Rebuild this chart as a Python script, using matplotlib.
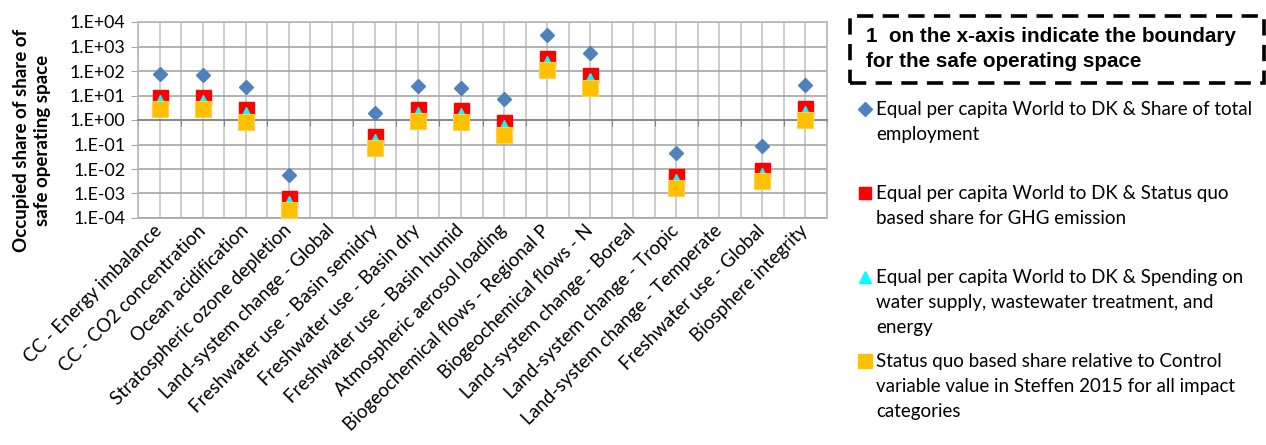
import numpy as np
import matplotlib
matplotlib.use("Agg")
import matplotlib.pyplot as plt
from matplotlib.lines import Line2D
from matplotlib.patches import Rectangle
from matplotlib.ticker import FuncFormatter

nan = np.nan

categories = ["CC - Energy imbalance", "CC - CO2 concentration", "Ocean acidification",
              "Stratospheric ozone depletion", "Land-system change - Global",
              "Freshwater use - Basin semidry", "Freshwater use - Basin dry",
              "Freshwater use - Basin humid", "Atmospheric aerosol loading",
              "Biogeochemical flows - Regional P", "Biogeochemical flows - N",
              "Land-system change - Boreal", "Land-system change - Tropic",
              "Land-system change - Temperate", "Freshwater use - Global",
              "Biosphere integrity"]

share_employment = [74, 69, 23, 0.0058, nan, 1.9, 24, 21, 6.9, 2900, 560, nan, 0.044, nan, 0.083, 26]
share_ghg = [8.3, 8.3, 2.7, 6.5e-4, nan, 0.22, 2.7, 2.5, 0.8, 325, 66, nan, 0.0051, nan, 0.0089, 2.95]
share_spending = [7.0, 7.0, 2.3, 5.5e-4, nan, 0.19, 2.3, 2.1, 0.68, 275, 56, nan, 0.0043, nan, 0.0076, 2.5]
status_quo = [2.8, 2.7, 0.85, 2.1e-4, nan, 0.074, 0.9, 0.83, 0.25, 105, 21, nan, 0.0016, nan, 0.0031, 0.98]

legend_labels = [
    "Equal per capita World to DK & Share of total\nemployment",
    "Equal per capita World to DK & Status quo\nbased share for GHG emission",
    "Equal per capita World to DK & Spending on\nwater supply, wastewater treatment, and\nenergy",
    "Status quo based share relative to Control\nvariable value in Steffen 2015 for all impact\ncategories",
]

W, H = 1266, 445
fig = plt.figure(figsize=(W / 100, H / 100), dpi=100)
ax = fig.add_axes([138 / W, 1 - 218 / H, (827 - 138) / W, (218 - 22) / H])

x = np.arange(len(categories))

# series, drawn in the same order as the original (yellow ends on top)
styles = [
    dict(marker="D", ms=7, color="#4F81BD", mec="#4F81BD"),
    dict(marker="s", ms=10.8, color="#FF0000", mec="#FF0000"),
    dict(marker="^", ms=6, color="#00FFFF", mec="#00FFFF"),
    dict(marker="s", ms=11.2, color="#FFC000", mec="#FFD24D", mew=0.8),
]
series = [share_employment, share_ghg, share_spending, status_quo]
for vals, st in zip(series, styles):
    ax.plot(x, vals, linestyle="none", zorder=3, clip_on=False, **st)

ax.set_yscale("log")
ax.set_ylim(1e-4, 1e4)
ax.set_xlim(-0.5, len(categories) - 0.5)
ax.set_yticks([10.0 ** k for k in range(-4, 5)])
ax.yaxis.set_minor_locator(plt.NullLocator())
ax.yaxis.set_major_formatter(FuncFormatter(lambda v, p: "1.E%+03d" % round(np.log10(v))))

# x axis crosses at 1, ticks on category boundaries
ax.spines["bottom"].set_position(("data", 1))
ax.spines["bottom"].set_color("#868686")
ax.spines["bottom"].set_linewidth(1.3)
ax.set_xticks(np.arange(-0.5, len(categories), 1.0))
ax.set_xticks(x, minor=True)
ax.tick_params(axis="x", which="major", direction="out", length=4, color="#868686",
               labelbottom=False)
ax.tick_params(axis="x", which="minor", length=0, labelbottom=False)
ax.tick_params(axis="y", length=5, color="#A6A6A6", labelsize=12.8, pad=4)
for lab in ax.get_yticklabels():
    lab.set_fontfamily("Lato")

ax.grid(axis="x", which="both", color="#C4C4C4", lw=1.2)
ax.grid(axis="y", which="major", color="#A6A6A6", lw=1.2)
ax.set_axisbelow(True)
for s in ["left", "right", "top"]:
    ax.spines[s].set_color("#B8B8B8")
    ax.spines[s].set_linewidth(1.2)

sec = ax.secondary_xaxis("bottom")
sec.set_xticks(x, labels=categories)
sec.tick_params(length=0, pad=7)
sec.spines["bottom"].set_color("#A6A6A6")
sec.spines["bottom"].set_linewidth(1.2)
for lab in sec.get_xticklabels():
    lab.set_rotation(45)
    lab.set_ha("right")
    lab.set_va("center")
    lab.set_rotation_mode("anchor")
    lab.set_fontfamily("Lato")
    lab.set_fontsize(13.5)

fig.text(32 / W, 1 - 140 / H, "Occupied share of share of\nsafe operating space",
         rotation=90, ha="center", va="center", fontsize=13.5, fontweight="bold",
         family="Lato", linespacing=1.3)

# note box
fig.add_artist(Rectangle((850 / W, 1 - 83 / H), (1264 - 850) / W, (83 - 16) / H,
                         transform=fig.transFigure, fill=False, ec="black", lw=2.6,
                         ls=(0, (4.5, 2.6))))
fig.text(866 / W, 1 - 49 / H, "1  on the x-axis indicate the boundary\nfor the safe operating space",
         ha="left", va="center", fontsize=14.9, fontweight="bold",
         family="Liberation Sans", linespacing=1.37)

# legend
leg_styles = [
    dict(marker="D", ms=7.5, color="#4F81BD"),
    dict(marker="s", ms=9, color="#FF0000"),
    dict(marker="^", ms=9, color="#00FFFF"),
    dict(marker="s", ms=9.5, color="#FFC000"),
]
first_line = [109, 193, 277, 361]
for lab, st, yy in zip(legend_labels, leg_styles, first_line):
    fig.add_artist(Line2D([865 / W], [1 - yy / H], transform=fig.transFigure,
                          linestyle="none", mec=st["color"], **st))
    fig.text(876 / W, 1 - (yy - 8) / H, lab, ha="left", va="top", fontsize=13.5,
             family="Lato", linespacing=1.56)

fig.savefig("out.png", dpi=100)
